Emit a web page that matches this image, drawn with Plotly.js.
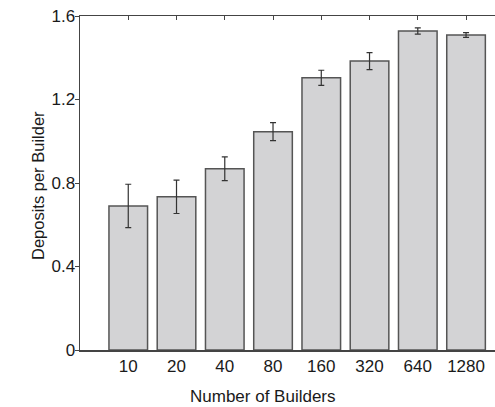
<!DOCTYPE html>
<html>
<head>
<meta charset="utf-8">
<script src="https://cdn.plot.ly/plotly-3.0.1.min.js"></script>
<style>html,body{margin:0;padding:0;background:#fff;}#chart{width:495px;height:407px;}</style>
</head>
<body>
<div id="chart"></div>
<script>
var categories = ["10", "20", "40", "80", "160", "320", "640", "1280"];
var deposits = [0.69, 0.734, 0.868, 1.046, 1.304, 1.384, 1.528, 1.509];
var errors = [0.104, 0.08, 0.057, 0.043, 0.036, 0.041, 0.015, 0.011];
var yTickVals = [0, 0.4, 0.8, 1.2, 1.6];
var yTickText = ["0", "0.4", "0.8", "1.2", "1.6"];

var idx = categories.map(function (c, i) { return i; });

var trace = {
  type: "bar",
  x: idx,
  y: deposits,
  width: 0.8,
  marker: { color: "#d3d3d5", line: { color: "#555555", width: 1.5 } },
  error_y: { type: "data", array: errors, visible: true, color: "#333333", thickness: 1.2, width: 3 },
  hoverinfo: "x+y"
};

var font = { family: "Liberation Sans, Arial, Helvetica, sans-serif", size: 17, color: "#1a1a1a" };
var yTitleFont = { family: "Liberation Sans, Arial, Helvetica, sans-serif", size: 16.5, color: "#1a1a1a" };

var layout = {
  width: 495,
  height: 407,
  margin: { l: 80, r: 0, t: 16, b: 57 },
  paper_bgcolor: "#ffffff",
  plot_bgcolor: "#ffffff",
  showlegend: false,
  font: font,
  xaxis: {
    range: [-1, 7.6],
    tickmode: "array",
    tickvals: idx,
    ticktext: categories,
    ticks: "inside",
    ticklen: 4,
    tickwidth: 1,
    tickcolor: "#444444",
    showline: true,
    linecolor: "#444444",
    linewidth: 1.5,
    mirror: "ticks",
    showgrid: false,
    zeroline: false,
    layer: "below traces",
    tickfont: font
  },
  yaxis: {
    range: [0, 1.6],
    tickmode: "array",
    tickvals: yTickVals,
    ticktext: yTickText,
    ticks: "outside",
    ticklen: 4,
    tickwidth: 1,
    tickcolor: "#444444",
    showline: true,
    linecolor: "#444444",
    linewidth: 1.5,
    showgrid: false,
    zeroline: false,
    ticklabelstandoff: -4,
    tickfont: font
  },
  annotations: [{
    text: "Number of Builders",
    xref: "paper", yref: "paper",
    x: 0.441, y: -0.138,
    xanchor: "center", yanchor: "middle",
    showarrow: false,
    font: font
  }, {
    text: "Deposits per Builder",
    xref: "paper", yref: "paper",
    x: -0.1012, y: 0.491,
    xanchor: "center", yanchor: "middle",
    textangle: -90,
    showarrow: false,
    font: yTitleFont
  }]
};

Plotly.newPlot("chart", [trace], layout, { displayModeBar: false, staticPlot: true });
</script>
</body>
</html>
